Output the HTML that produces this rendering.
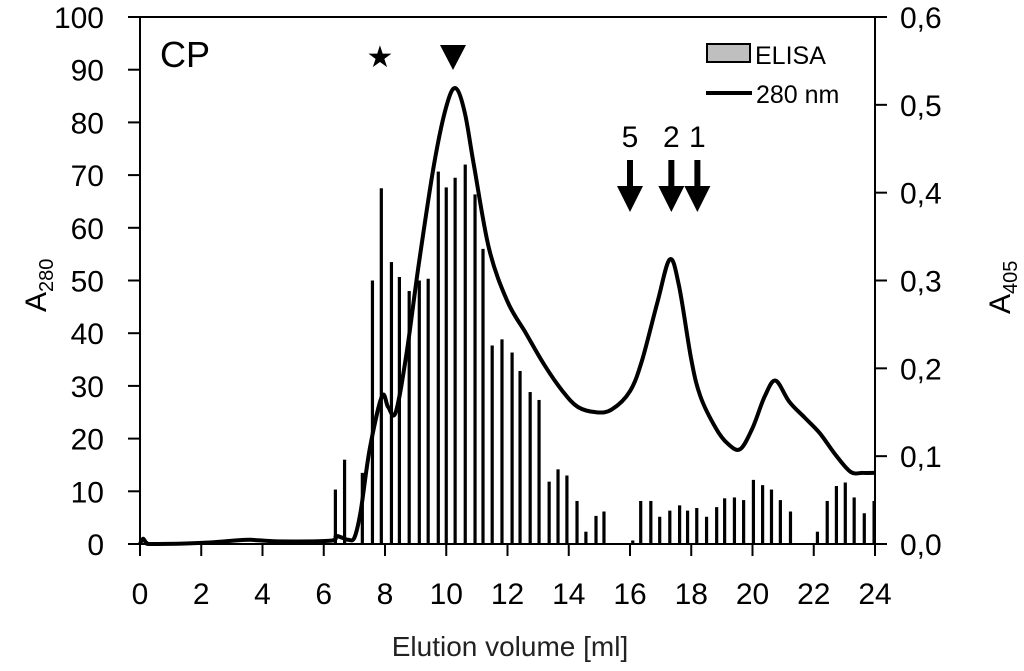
<!DOCTYPE html>
<html><head><meta charset="utf-8"><style>
body{margin:0;background:#fff;}
svg{display:block;font-family:"Liberation Sans",sans-serif;}
</style></head><body>
<svg id="chart" width="1024" height="671"></svg>
<script>
const barX=[6.38,6.68,7.26,7.59,7.88,8.21,8.47,8.79,9.12,9.41,9.74,10.0,10.29,10.62,10.94,11.2,11.5,11.82,12.15,12.41,12.74,13.03,13.36,13.65,13.94,14.27,14.56,14.89,15.15,16.09,16.35,16.68,16.97,17.3,17.62,17.88,18.18,18.5,18.83,19.09,19.41,19.71,20.03,20.33,20.62,20.91,21.24,22.12,22.44,22.74,23.03,23.32,23.65,23.97];
const barA405=[0.062,0.096,0.081,0.30,0.405,0.321,0.304,0.288,0.30,0.302,0.424,0.406,0.417,0.432,0.398,0.336,0.226,0.233,0.218,0.197,0.173,0.164,0.071,0.085,0.078,0.049,0.014,0.032,0.037,0.004,0.049,0.049,0.031,0.038,0.044,0.038,0.041,0.031,0.042,0.052,0.053,0.050,0.073,0.067,0.062,0.050,0.037,0.014,0.049,0.066,0.070,0.053,0.035,0.049];
const lineX=[0,0.1,0.2,0.4,2,3,3.6,4.5,6.2,6.4,6.6,6.8,7.0,7.2,7.5,7.9,8.1,8.35,8.7,9.1,9.6,10.0,10.3,10.6,10.9,11.4,12.0,12.6,13.2,13.8,14.3,14.9,15.4,16.0,16.4,16.9,17.3,17.6,18.0,18.3,18.8,19.2,19.6,20.0,20.4,20.75,21.2,21.7,22.2,22.7,23.2,23.6,24];
const lineA280=[0,1,0.3,0,0.2,0.6,0.8,0.5,0.6,1.5,1.2,0.8,1.2,6,18,28,26,25,36,53,72,83,86.5,82,72,56,46,40,34,29,26,25,25.5,29,35,46,54,49,35,28,22,19,18,22,28,31,27,24,21,17,13.7,13.5,13.5];
const yTicks=[0,10,20,30,40,50,60,70,80,90,100];
const y2Ticks=["0,0","0,1","0,2","0,3","0,4","0,5","0,6"];
const xTicks=[0,2,4,6,8,10,12,14,16,18,20,22,24];
const arrowX=[16.0,17.35,18.2];
const arrowLbl=["5","2","1"];
const svg=document.getElementById('chart');
const NS='http://www.w3.org/2000/svg';
const X0=140,X1=875,Y0=544,YT=17;
const sx=v=>X0+(X1-X0)*v/24;
const sy=v=>Y0-(Y0-YT)*v/100;
const sy2=v=>sy(v/0.6*100);
function mk(t,a,p){const e=document.createElementNS(NS,t);for(const k in a)e.setAttribute(k,a[k]);(p||svg).appendChild(e);return e;}
barX.forEach((x,i)=>{
const r=mk('rect',{x:sx(x)-1.6,y:sy2(barA405[i]),width:3.2,height:Y0-sy2(barA405[i]),fill:'#000'});


});
const P=lineX.map((x,i)=>[sx(x),sy(lineA280[i])]);
let d='M'+P[0][0]+','+P[0][1];
for(let i=0;i<P.length-1;i++){
const p0=P[i-1]||P[i],p1=P[i],p2=P[i+1],p3=P[i+2]||P[i+1];
const c1=[p1[0]+(p2[0]-p0[0])/6,p1[1]+(p2[1]-p0[1])/6];
const c2=[p2[0]-(p3[0]-p1[0])/6,p2[1]-(p3[1]-p1[1])/6];
d+=`C${c1[0].toFixed(1)},${c1[1].toFixed(1)} ${c2[0].toFixed(1)},${c2[1].toFixed(1)} ${p2[0].toFixed(1)},${p2[1].toFixed(1)}`;
}
const ln=mk('path',{d:d,fill:'none',stroke:'#000','stroke-width':4,'stroke-linejoin':'round'});


const ax=mk('path',{d:`M${X0},${YT}V${Y0}H${X1}V${YT}M128,${YT}H${X1}`,fill:'none',stroke:'#000','stroke-width':2});


yTicks.forEach(v=>{
mk('line',{x1:128,x2:X0,y1:sy(v),y2:sy(v),stroke:'#000','stroke-width':2});
const t=mk('text',{x:104,y:sy(v)+11,'text-anchor':'end','font-size':30});t.textContent=v;


});
y2Ticks.forEach((s,i)=>{
const y=sy2(i*0.1);
mk('line',{x1:X1,x2:X1+12,y1:y,y2:y,stroke:'#000','stroke-width':2});
const t=mk('text',{x:900,y:y+11,'font-size':30});t.textContent=s;


});
xTicks.forEach(v=>{
mk('line',{x1:sx(v),x2:sx(v),y1:Y0,y2:Y0+12,stroke:'#000','stroke-width':2});
const t=mk('text',{x:sx(v),y:604,'text-anchor':'middle','font-size':30});t.textContent=v;


});
arrowX.forEach((v,i)=>{
const x=sx(v);
const a=mk('path',{d:`M${x-3},160H${x+3}V186H${x+13}L${x},212L${x-13},186H${x-3}Z`,fill:'#000'});


const t=mk('text',{x:x,y:147,'text-anchor':'middle','font-size':30});t.textContent=arrowLbl[i];


});
</script>
<script>
(function(){
const svg=document.getElementById('chart');const NS='http://www.w3.org/2000/svg';
function mk(t,a,txt){const e=document.createElementNS(NS,t);for(const k in a)e.setAttribute(k,a[k]);if(txt)e.textContent=txt;svg.appendChild(e);return e;}
let e;
e=mk('text',{x:160,y:67,'font-size':36},'CP');


e=mk('text',{x:380,y:67,'font-size':30,'text-anchor':'middle'},'★');


e=mk('path',{d:'M440,45H466L453,70Z',fill:'#000'});


e=mk('rect',{x:707,y:44,width:43,height:18,fill:'#bfbfbf',stroke:'#000','stroke-width':2});


e=mk('text',{x:755,y:64,'font-size':25},'ELISA');


e=mk('line',{x1:706,x2:752,y1:93,y2:93,stroke:'#000','stroke-width':4});


e=mk('text',{x:756,y:103,'font-size':25},'280 nm');


e=mk('text',{x:510,y:656,'font-size':28,'text-anchor':'middle',fill:'#222'},'Elution volume [ml]');


e=mk('text',{transform:'translate(46,312) rotate(-90)','font-size':30});
e.innerHTML='A<tspan font-size="20" dy="7">280</tspan>';


e=mk('text',{transform:'translate(1010,314) rotate(-90)','font-size':30});
e.innerHTML='A<tspan font-size="20" dy="7">405</tspan>';


})();
</script>
</body></html>
